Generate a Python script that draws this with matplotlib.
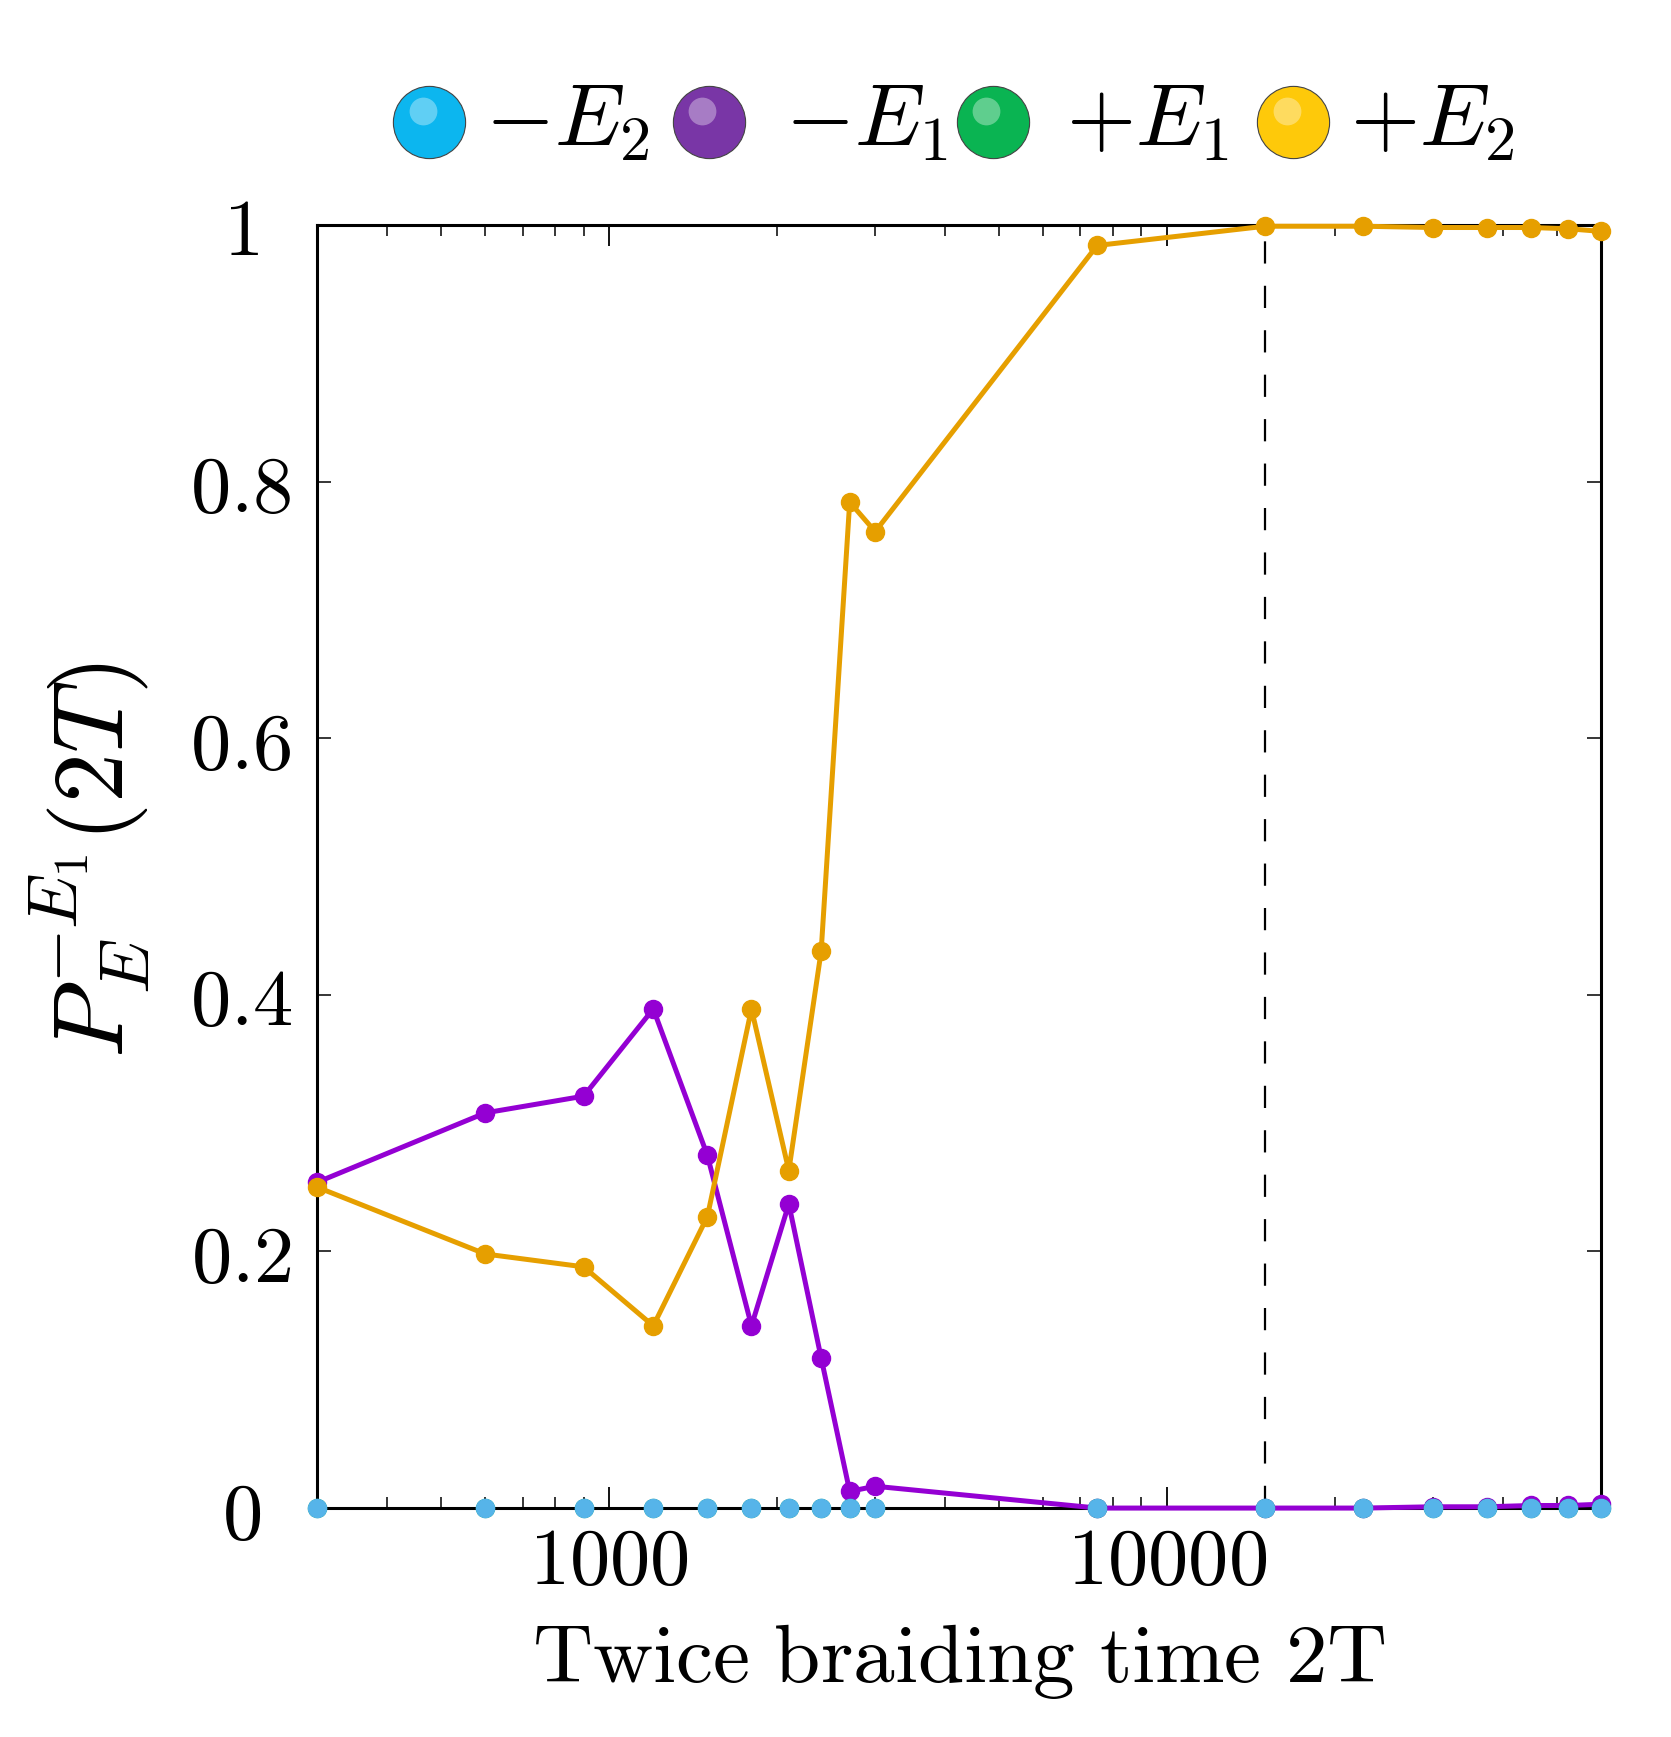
import matplotlib
matplotlib.use("Agg")
import matplotlib.pyplot as plt
from matplotlib.lines import Line2D
from matplotlib.ticker import FixedLocator, FuncFormatter, LogLocator, NullFormatter
import numpy as np

plt.rcParams['mathtext.fontset'] = 'cm'
plt.rcParams['font.family'] = 'serif'

#%% data

two_T = [300, 600, 900, 1200, 1500, 1800, 2100, 2400, 2700, 3000,
         7500, 15000, 22500, 30000, 37500, 45000, 52500, 60000]
P_mE2 = [0.0] * 18
P_mE1 = [0.254, 0.308, 0.321, 0.389, 0.275, 0.142, 0.237, 0.117, 0.013, 0.017,
         0.0, 0.0, 0.0, 0.001, 0.001, 0.002, 0.002, 0.003]
P_pE1 = [0.0] * 18
P_pE2 = [0.250, 0.198, 0.188, 0.142, 0.227, 0.389, 0.263, 0.434, 0.784, 0.761,
         0.984, 0.999, 0.999, 0.998, 0.998, 0.998, 0.997, 0.995]
T_mark = 15000

legend_labels = [r'$-E_2$', r'$-E_1$', r'$+E_1$', r'$+E_2$']
legend_colors = ['#0cb6ef', '#7936a6', '#0ab452', '#fec90a']

#%% plot

fig = plt.figure(figsize=(16.71, 17.37), dpi=100)
ax = fig.add_axes([0.190, 0.1318, 0.768, 0.7387])

ax.axvline(T_mark, color='black', lw=1.6, ls=(0, (10, 10)), zorder=1)

ax.plot(two_T, P_mE1, '-o', color='#9400d3', lw=3.6, ms=13, clip_on=False, zorder=3)
ax.plot(two_T, P_pE2, '-o', color='#e69f00', lw=3.6, ms=13, clip_on=False, zorder=4)
ax.plot(two_T, P_pE1, 'o', color='#009e73', ms=13, clip_on=False, zorder=4.5)
ax.plot(two_T, P_mE2, 'o', color='#56b4e9', ms=13, clip_on=False, zorder=5)

ax.set_xscale('log')
ax.set_xlim(300, 60000)
ax.set_ylim(0, 1)

ax.xaxis.set_major_locator(FixedLocator([1000, 10000]))
ax.xaxis.set_minor_locator(LogLocator(base=10, subs=np.arange(2, 10)))
ax.xaxis.set_minor_formatter(NullFormatter())
ax.xaxis.set_major_formatter(FuncFormatter(lambda v, p: r'$%d$' % v))
ax.set_yticks([0, 0.2, 0.4, 0.6, 0.8, 1.0])
ax.yaxis.set_major_formatter(FuncFormatter(lambda v, p: r'$%g$' % v))

ax.tick_params(axis='x', which='major', direction='in', length=15, width=1.3,
               top=True, labelsize=58, pad=11)
ax.tick_params(axis='x', which='minor', direction='in', length=8, width=1.1, top=True)
ax.tick_params(axis='y', which='major', direction='in', length=10, width=1.1,
               right=True, labelsize=58, pad=55)
for lbl in ax.get_yticklabels():
    lbl.set_horizontalalignment('center')
for s in ax.spines.values():
    s.set_linewidth(2.2)

ax.set_xlabel(r'$\mathrm{Twice\ braiding\ time\ 2T}$', fontsize=60, labelpad=14)
ax.set_ylabel(r'$P_{E}^{-E_1}(2T)$', fontsize=72)
ax.yaxis.set_label_coords(-0.13, 0.505)

# glossy-ball legend on top
ball_x = [0.257, 0.424, 0.594, 0.774]
text_x = [0.290, 0.470, 0.638, 0.808]
yl = 0.930
for bx, tx, c, lab in zip(ball_x, text_x, legend_colors, legend_labels):
    fig.add_artist(Line2D([bx], [yl], marker='o', ms=52, color=c,
                          mec='#444444', mew=0.8, transform=fig.transFigure))
    fig.add_artist(Line2D([bx - 0.004], [yl + 0.006], marker='o', ms=20, color='white',
                          alpha=0.35, mew=0, transform=fig.transFigure))
    fig.text(tx, yl, lab, fontsize=64, va='center', ha='left')

plt.savefig('out.png', dpi=100)
